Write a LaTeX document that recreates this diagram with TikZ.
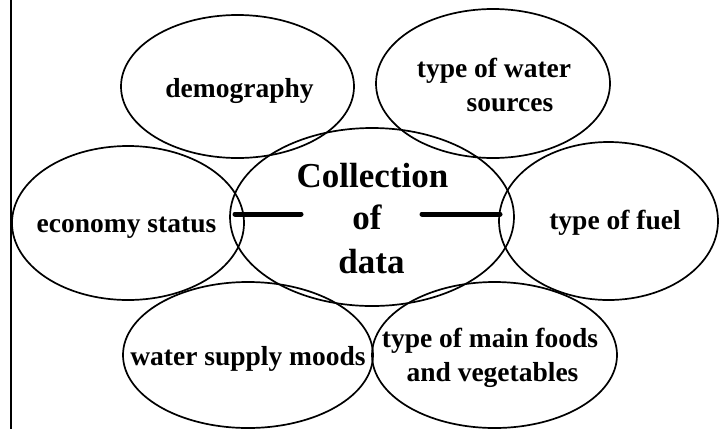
\documentclass[tikz,border=0pt]{standalone}
\usepackage{fontspec}
\setmainfont{Liberation Serif}
\usetikzlibrary{shapes.geometric}
\begin{document}
\begin{tikzpicture}[x=1pt,y=-1pt,
  oval/.style={draw,ellipse,line width=1.7pt,inner sep=0pt},
  lbl/.style={anchor=base,inner sep=0pt,font=\fontsize{27.5}{30}\selectfont\bfseries},
  big/.style={anchor=base,inner sep=0pt,font=\fontsize{35}{40}\selectfont\bfseries},
  bar/.style={line width=5pt,line cap=round}]
\useasboundingbox (0,0) rectangle (719,429);
\draw[line width=2pt] (11,0) -- (11,429);
% ellipses
\node[oval,minimum width=233pt,minimum height=143pt] (demo) at (237.5,86.5) {};
\node[oval,minimum width=234pt,minimum height=149pt] (wsrc) at (493,83.5) {};
\node[oval,minimum width=232pt,minimum height=154pt] (econ) at (128,223) {};
\node[oval,minimum width=284pt,minimum height=178pt] (coll) at (372,217) {};
\node[oval,minimum width=219pt,minimum height=158pt] (fuel) at (608.5,221) {};
\node[oval,minimum width=250pt,minimum height=146pt] (wsup) at (248,355) {};
\node[oval,minimum width=245pt,minimum height=146pt] (food) at (494.5,355) {};
% texts
\node[lbl] (t1) at (239.5,97) {demography};
\node[lbl] (t2a) at (494,77) {type of water};
\node[lbl] (t2b) at (510,111) {sources};
\node[lbl] (t3) at (126.5,232) {economy status};
\node[lbl] (t4) at (615,229) {type of fuel};
\node[lbl] (t5) at (248,365) {water supply moods};
\node[lbl] (t6a) at (490,347) {type of main foods};
\node[lbl] (t6b) at (492.5,381) {and vegetables};
\node[big] (c1) at (372.5,187) {Collection};
\node[big] (c2) at (367,229) {of};
\node[big] (c3) at (371.5,273) {data};
% bars
\coordinate (la) at (235,214);
\coordinate (lb) at (301,214);
\coordinate (ra) at (422,214);
\coordinate (rb) at (500,214);
\draw[bar] (la) -- (lb);
\draw[bar] (ra) -- (rb);
\end{tikzpicture}
\end{document}
